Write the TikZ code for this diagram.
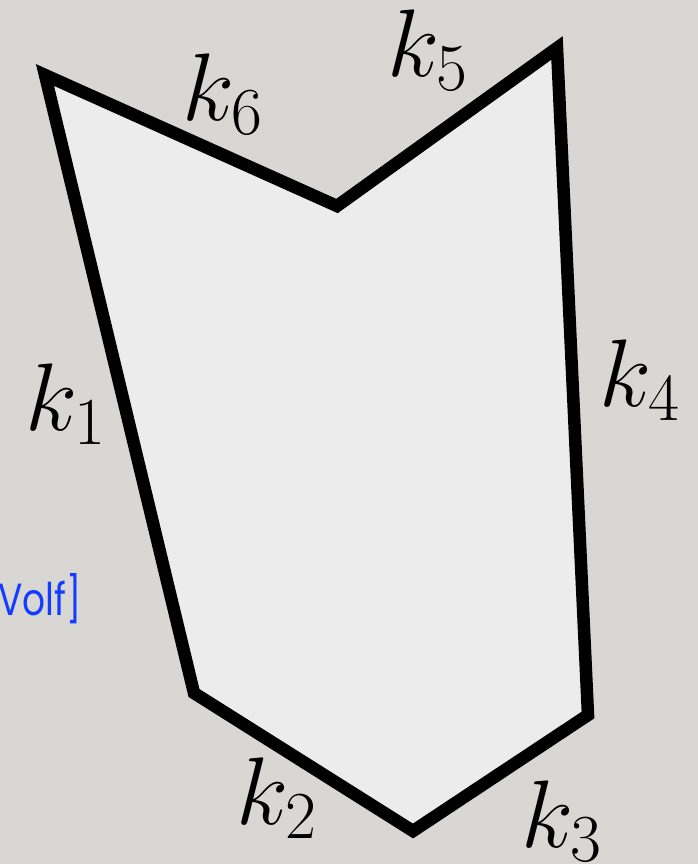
\RequirePackage{fix-cm}
\documentclass[tikz,border=0pt]{standalone}
\usepackage{fontspec}
\newfontfamily\citefont{Poppins}
\definecolor{bgc}{RGB}{216,215,212}
\definecolor{fillc}{RGB}{236,236,236}
\definecolor{citeblue}{RGB}{20,60,255}
\begin{document}
\begin{tikzpicture}[x=1pt,y=-1pt,
  lbl/.style={inner sep=0pt,font=\fontsize{96}{100}\selectfont},
  poly/.style={line width=12.5pt,line join=miter,draw=black,fill=fillc}]
\fill[bgc] (0,0) rectangle (698,864);
\useasboundingbox (0,0) rectangle (698,864);
\coordinate (A) at (45,75);
\coordinate (B) at (337,206);
\coordinate (C) at (557,48);
\coordinate (D) at (588,715);
\coordinate (E) at (413,831);
\coordinate (F) at (194,693);
\draw[poly] (A) -- (B) -- (C) -- (D) -- (E) -- (F) -- cycle;
\node[lbl] (k6) at (223,94) {$k_6$};
\node[lbl] (k5) at (428,50) {$k_5$};
\node[lbl] (k1) at (66,404) {$k_1$};
\node[lbl] (k4) at (640,380) {$k_4$};
\node[lbl] (k2) at (277,798) {$k_2$};
\node[lbl] (k3) at (562,821) {$k_3$};
\node[anchor=base west,inner sep=0pt,text=citeblue,xscale=0.8,font=\citefont\fontsize{45}{48}\selectfont] (cite) at (-2,615) {Volf]};
\end{tikzpicture}
\end{document}
